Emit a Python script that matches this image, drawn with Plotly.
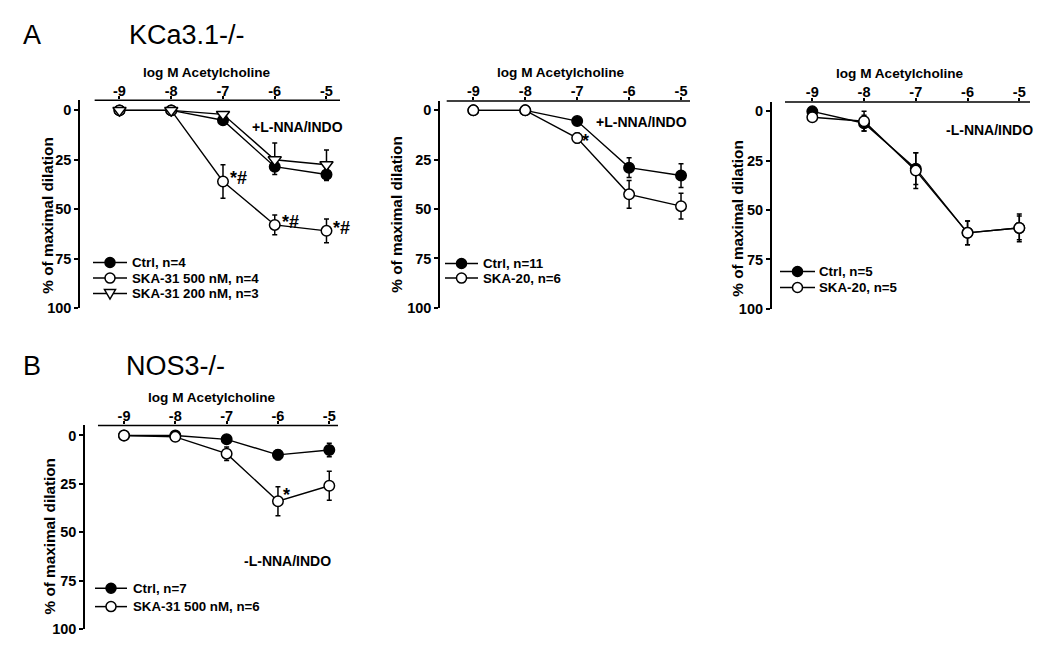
import plotly.graph_objects as go

# the browser page adds an 8px body margin; size the figure so the page fits the window
OFF = 8
W, H = 1050 - 2 * OFF, 654 - 2 * OFF
VS = 0.985  # observed vertical scale of the photographed page

# ---------------- data ----------------
dose = [-9, -8, -7, -6, -5]
dose_labels = ["-9", "-8", "-7", "-6", "-5"]
y_ticks = [0, 25, 50, 75, 100]
x_title = "log M Acetylcholine"
y_title = "% of maximal dilation"

# Panel A1 (KCa3.1-/-, +L-NNA/INDO)
a1_ctrl = [0, 0, 5, 28.5, 32.5]
a1_ctrl_err = [0, 0, 1, 4, 3]
a1_ska500 = [0, 0, 36, 58, 61]
a1_ska500_err = [0, 1, 8.5, 5, 6]
a1_ska200 = [0, 0, 2, 25, 27.5]
a1_ska200_err = [0, 0, 1, 8.5, 7.5]
a1_labels = ["Ctrl, n=4", "SKA-31 500 nM, n=4", "SKA-31 200 nM, n=3"]

# Panel A2 (KCa3.1-/-, +L-NNA/INDO)
a2_ctrl = [0, 0, 5.4, 29, 33]
a2_ctrl_err = [0, 1, 1, 5, 6]
a2_ska20 = [0, 0, 14, 42.5, 48.5]
a2_ska20_err = [0, 1.5, 2.5, 7, 6.5]
a2_labels = ["Ctrl, n=11", "SKA-20, n=6"]

# Panel A3 (KCa3.1-/-, -L-NNA/INDO)
a3_ctrl = [0, 6, 29, 61.5, 59]
a3_ctrl_err = [1, 4, 8, 6, 6]
a3_ska20 = [3, 5, 30, 61.5, 59]
a3_ska20_err = [2, 5, 9, 6, 7]
a3_labels = ["Ctrl, n=5", "SKA-20, n=5"]

# Panel B (NOS3-/-, -L-NNA/INDO)
b_ctrl = [0, 0, 2, 10, 7.5]
b_ctrl_err = [0, 0.5, 1, 2.5, 3.5]
b_ska31 = [0, 0.7, 9.4, 34, 26]
b_ska31_err = [0, 1, 3.5, 7.5, 7.5]
b_labels = ["Ctrl, n=7", "SKA-31 500 nM, n=6"]

# ---------------- helpers ----------------
FONT = "Liberation Sans, Arial, sans-serif"
FS = 13.3
TICK_FS = 14.5


def px(xp):
    return (xp - OFF) / W


def py(yp):
    return 1 - (yp / VS - OFF) / H


fig = go.Figure()

panels = {
    "1": dict(xd=(80, 340), yd=(100, 307), xr=(-9.763, -4.739), ytop=-5.08, xline=-9.48),
    "2": dict(xd=(440, 690), yd=(100.7, 307), xr=(-9.642, -4.827), ytop=-4.72, xline=-9.513),
    "3": dict(xd=(771.7, 1030), yd=(101.7, 308), xr=(-9.785, -4.793), ytop=-4.72, xline=-9.528),
    "4": dict(xd=(85, 338), yd=(424.3, 627.3), xr=(-9.76, -4.83), ytop=-5.18, xline=-9.507),
}

shapes = []
annotations = []

for k, p in panels.items():
    xa = "xaxis" if k == "1" else f"xaxis{k}"
    ya = "yaxis" if k == "1" else f"yaxis{k}"
    xref = "x" if k == "1" else f"x{k}"
    yref = "y" if k == "1" else f"y{k}"
    fig.layout[xa] = dict(
        domain=[px(p["xd"][0]), px(p["xd"][1])],
        range=list(p["xr"]),
        anchor=yref,
        side="top",
        tickvals=dose,
        ticktext=dose_labels,
        ticks="outside",
        ticklen=3,
        tickwidth=1.5,
        tickcolor="black",
        ticklabelstandoff=-5,
        showline=False,
        showgrid=False,
        zeroline=False,
        tickfont=dict(family=FONT, size=TICK_FS, color="black", weight="bold"),
    )
    fig.layout[ya] = dict(
        domain=[py(p["yd"][1]), py(p["yd"][0])],
        range=[100, p["ytop"]],
        anchor=xref,
        tickvals=y_ticks,
        ticktext=[str(v) for v in y_ticks],
        ticks="outside",
        ticklen=4,
        tickwidth=1.5,
        tickcolor="black",
        showline=True,
        linewidth=1.5,
        linecolor="black",
        showgrid=False,
        zeroline=False,
        tickfont=dict(family=FONT, size=TICK_FS, color="black", weight="bold"),
    )
    shapes.append(dict(type="line", xref=xref, yref=f"{yref} domain",
                       x0=p["xline"], x1=p["xr"][1], y0=1, y1=1,
                       line=dict(color="black", width=1.5)))


def add_series(k, y, err, symbol, fill, err_sym=True):
    xref = "x" if k == "1" else f"x{k}"
    yref = "y" if k == "1" else f"y{k}"
    if err_sym:
        ey = dict(type="data", array=err, symmetric=True, color="black",
                  thickness=1.5, width=2.5)
    else:
        ey = dict(type="data", array=[0] * len(err), arrayminus=err, symmetric=False,
                  color="black", thickness=1.5, width=2.5)
    fig.add_trace(go.Scatter(
        x=dose, y=y, xaxis=xref, yaxis=yref, mode="lines+markers",
        line=dict(color="black", width=1.4),
        marker=dict(symbol=symbol, size=10.5 if symbol == "circle" else 11.5,
                    color=fill, line=dict(color="black", width=1.5)),
        error_y=ey, showlegend=False, cliponaxis=False,
    ))


add_series("1", a1_ctrl, a1_ctrl_err, "circle", "black")
add_series("1", a1_ska500, a1_ska500_err, "circle", "white")
add_series("1", a1_ska200, a1_ska200_err, "triangle-down", "white", err_sym=False)

add_series("2", a2_ctrl, a2_ctrl_err, "circle", "black")
add_series("2", a2_ska20, a2_ska20_err, "circle", "white")

add_series("3", a3_ctrl, a3_ctrl_err, "circle", "black")
add_series("3", a3_ska20, a3_ska20_err, "circle", "white")

add_series("4", b_ctrl, b_ctrl_err, "circle", "black")
add_series("4", b_ska31, b_ska31_err, "circle", "white")


def text(xp, yp, s, size=FS, bold=True, anchor="left", angle=0):
    annotations.append(dict(
        xref="paper", yref="paper", x=px(xp), y=py(yp), text=s, showarrow=False,
        xanchor=anchor, yanchor="middle", textangle=angle,
        font=dict(family=FONT, size=size, color="black", weight="bold" if bold else "normal"),
    ))


def legend_entry(x0, x1, yp, symbol, fill, label, tx):
    shapes.append(dict(type="line", xref="paper", yref="paper",
                       x0=px(x0), x1=px(x1), y0=py(yp), y1=py(yp),
                       line=dict(color="black", width=1.5)))
    cx = (x0 + x1) / 2
    if symbol == "circle":
        shapes.append(dict(type="circle", xref="paper", yref="paper",
                           xsizemode="pixel", ysizemode="pixel",
                           xanchor=px(cx), yanchor=py(yp),
                           x0=-5, x1=5, y0=-5, y1=5,
                           fillcolor=fill, line=dict(color="black", width=1.5)))
    else:
        shapes.append(dict(type="path", xref="paper", yref="paper",
                           xsizemode="pixel", ysizemode="pixel",
                           xanchor=px(cx), yanchor=py(yp),
                           path="M-5.5,4 L5.5,4 L0,-5.5 Z",
                           fillcolor=fill, line=dict(color="black", width=1.5)))
    text(tx, yp, label)


# legends
legend_entry(93, 127, 261.7, "circle", "black", a1_labels[0], 130)
legend_entry(93, 127, 277.3, "circle", "white", a1_labels[1], 130)
legend_entry(93, 127, 292.7, "tri", "white", a1_labels[2], 130)

legend_entry(445, 478, 262.7, "circle", "black", a2_labels[0], 481)
legend_entry(445, 478, 277.3, "circle", "white", a2_labels[1], 481)

legend_entry(780, 815, 270.7, "circle", "black", a3_labels[0], 817)
legend_entry(780, 815, 286.7, "circle", "white", a3_labels[1], 817)

legend_entry(95, 127, 586.7, "circle", "black", b_labels[0], 131)
legend_entry(95, 127, 605, "circle", "white", b_labels[1], 131)

# axis titles
text(207, 72, x_title, size=13.6, anchor="center")
text(561, 72, x_title, size=13.6, anchor="center")
text(900, 73.5, x_title, size=13.6, anchor="center")
text(212, 396, x_title, size=13.6, anchor="center")

text(48, 215, y_title, size=15.3, anchor="center", angle=-90)
text(397, 214, y_title, size=15.3, anchor="center", angle=-90)
text(738, 218, y_title, size=15.3, anchor="center", angle=-90)
text(49, 535, y_title, size=15.3, anchor="center", angle=-90)

# condition labels
text(297.5, 127, "+L-NNA/INDO", size=14, anchor="center")
text(641, 122, "+L-NNA/INDO", size=14, anchor="center")
text(989, 130, "-L-NNA/INDO", size=14, anchor="center")
text(287.5, 560, "-L-NNA/INDO", size=14, anchor="center")

# panel headings
text(21, 35, "A", size=27, bold=False)
text(127, 35, "KCa3.1-/-", size=27, bold=False)
text(21, 365, "B", size=27, bold=False)
text(124, 365, "NOS3-/-", size=27, bold=False)


# significance marks
def sig(k, xv, yv, s, dx=6, dy=0, size=18):
    xref = "x" if k == "1" else f"x{k}"
    yref = "y" if k == "1" else f"y{k}"
    annotations.append(dict(
        xref=xref, yref=yref, x=xv, y=yv, text=s, showarrow=False,
        xanchor="left", yanchor="middle", xshift=dx, yshift=dy,
        font=dict(family=FONT, size=size, color="black", weight="bold"),
    ))


sig("1", -7, a1_ska500[2], "*#", dx=5, dy=3)
sig("1", -6, a1_ska500[3], "*#", dx=5, dy=3)
sig("1", -5, a1_ska500[4], "*#", dx=5, dy=3)
sig("2", -7, a2_ska20[2], "*", dx=3, dy=-3)
sig("4", -6, b_ska31[3], "*", dx=3, dy=6)

fig.update_layout(
    width=W, height=H, autosize=False,
    margin=dict(l=0, r=0, t=0, b=0),
    paper_bgcolor="white", plot_bgcolor="white",
    showlegend=False,
    shapes=shapes, annotations=annotations,
    font=dict(family=FONT, size=FS, color="black"),
)

fig.write_html("out.html")
